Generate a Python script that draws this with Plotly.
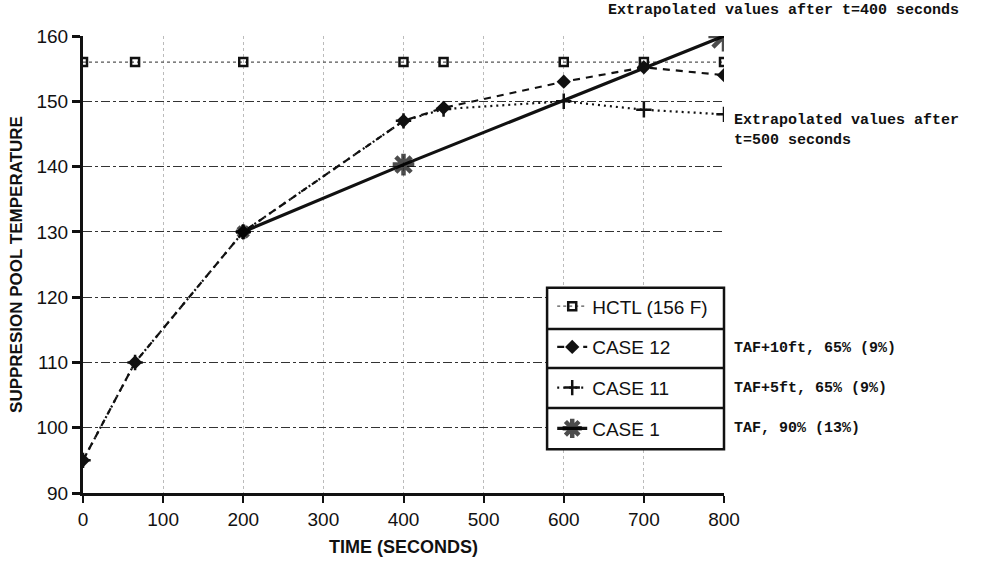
import plotly.graph_objects as go

# ---- data ----
hctl_t = [0, 65, 200, 400, 450, 600, 700, 800]
hctl_v = [156, 156, 156, 156, 156, 156, 156, 156]

case12_t = [0, 65, 200, 400, 450, 600, 700, 800]
case12_v = [95, 110, 130, 147, 149, 153, 155.2, 154]

case11_t = [0, 65, 200, 400, 450, 600, 700, 800]
case11_v = [95, 110, 130, 147, 148.8, 150, 148.7, 148]

case1_t = [200, 400, 800]
case1_v = [130, 140.3, 160]

x_ticks = [0, 100, 200, 300, 400, 500, 600, 700, 800]
y_ticks = [90, 100, 110, 120, 130, 140, 150, 160]

legend_names = ["HCTL (156 F)", "CASE 12", "CASE 11", "CASE 1"]
case_notes = ["TAF+10ft, 65% (9%)", "TAF+5ft, 65% (9%)", "TAF, 90% (13%)"]
note_400 = "Extrapolated values after t=400 seconds"
note_500 = "Extrapolated values after<br>t=500 seconds"

FONT = "Liberation Sans"
MONO = "Liberation Mono"
INK = "#111111"

fig = go.Figure()

fig.add_trace(go.Scatter(
    x=hctl_t, y=hctl_v, name=legend_names[0], mode="lines+markers",
    line=dict(color="#555555", width=1.2, dash="dot"),
    marker=dict(symbol="square-open", size=8, color=INK, line=dict(width=2.5, color=INK)),
    legendgroup="g0"))

fig.add_trace(go.Scatter(
    x=case12_t, y=case12_v, name=legend_names[1], mode="lines+markers",
    line=dict(color=INK, width=2.2, dash="7px,6px"),
    marker=dict(symbol="diamond", size=11, color=INK),
    legendgroup="g1"))

fig.add_trace(go.Scatter(
    x=case11_t, y=case11_v, name=legend_names[2], mode="lines+markers",
    line=dict(color=INK, width=2.2, dash="2px,4px"),
    marker=dict(symbol="cross-thin-open", size=11, color=INK, line=dict(width=2.5, color=INK)),
    legendgroup="g2"))

fig.add_trace(go.Scatter(
    x=case1_t, y=case1_v, name=legend_names[3], mode="lines+markers",
    line=dict(color=INK, width=3.2),
    marker=dict(symbol="asterisk-open", size=[12, 18, 26], color="black", line=dict(width=4.5, color="black")),
    legendgroup="g3"))

# legend box with row separators (paper coordinates)
box_x0, box_x1 = 0.724, 1.0
box_y1, box_y0 = 0.449, 0.096
shapes = [dict(type="rect", xref="paper", yref="paper", x0=box_x0, x1=box_x1, y0=box_y0, y1=box_y1,
               line=dict(color=INK, width=2.5), fillcolor="white", layer="above")]
for yy in [0.359, 0.2735, 0.186]:
    shapes.append(dict(type="line", xref="paper", yref="paper", x0=box_x0, x1=box_x1, y0=yy, y1=yy,
                       line=dict(color=INK, width=2.5), layer="above"))

annotations = []
for note, yy in zip(case_notes, [0.316, 0.2297, 0.141]):
    annotations.append(dict(text="<b>" + note + "</b>", xref="paper", yref="paper", x=1.013, y=yy,
                            xanchor="left", yanchor="middle", showarrow=False,
                            font=dict(family=MONO, size=15, color=INK)))
annotations.append(dict(text="<b>" + note_400 + "</b>", xref="paper", yref="paper", x=1.37, y=1.055,
                        xanchor="right", yanchor="middle", showarrow=False,
                        font=dict(family=MONO, size=15, color=INK)))
annotations.append(dict(text="<b>" + note_500 + "</b>", xref="paper", yref="paper", x=1.013, y=0.794,
                        xanchor="left", yanchor="middle", align="left", showarrow=False,
                        font=dict(family=MONO, size=15, color=INK)))

fig.update_layout(
    width=982, height=563,
    margin=dict(l=83, r=258, t=36, b=70),
    paper_bgcolor="white", plot_bgcolor="white",
    font=dict(family=FONT, color=INK),
    showlegend=True,
    legend=dict(x=box_x0 + 0.008, y=box_y1 + 0.001, xanchor="left", yanchor="top",
                bgcolor="rgba(0,0,0,0)", borderwidth=0,
                font=dict(family=FONT, size=19, color=INK),
                tracegroupgap=13, itemwidth=30),
    shapes=shapes,
    annotations=annotations,
    xaxis=dict(range=[0, 800], tickvals=x_ticks, ticktext=[str(v) for v in x_ticks],
               showline=True, linecolor=INK, linewidth=3, ticks="outside", ticklen=7,
               tickwidth=2, tickcolor=INK, tickfont=dict(size=19), automargin=False,
               showgrid=True, gridcolor="#bbbbbb", gridwidth=1, griddash="dot",
               zeroline=False,
               title=dict(text="<b>TIME (SECONDS)</b>", font=dict(size=18), standoff=12)),
    yaxis=dict(range=[90, 160], tickvals=y_ticks, ticktext=[str(v) for v in y_ticks],
               showline=True, linecolor=INK, linewidth=3, ticks="outside", ticklen=8,
               tickwidth=2.5, tickcolor=INK, tickfont=dict(size=19), automargin=False,
               showgrid=True, gridcolor="#333333", gridwidth=1.4, griddash="dashdot",
               zeroline=False,
               title=dict(text="<b>SUPPRESION POOL TEMPERATURE</b>", font=dict(size=17), standoff=10)),
)

fig.write_html("out.html", config={"displayModeBar": False},
               post_script="document.body.style.margin='0';")
